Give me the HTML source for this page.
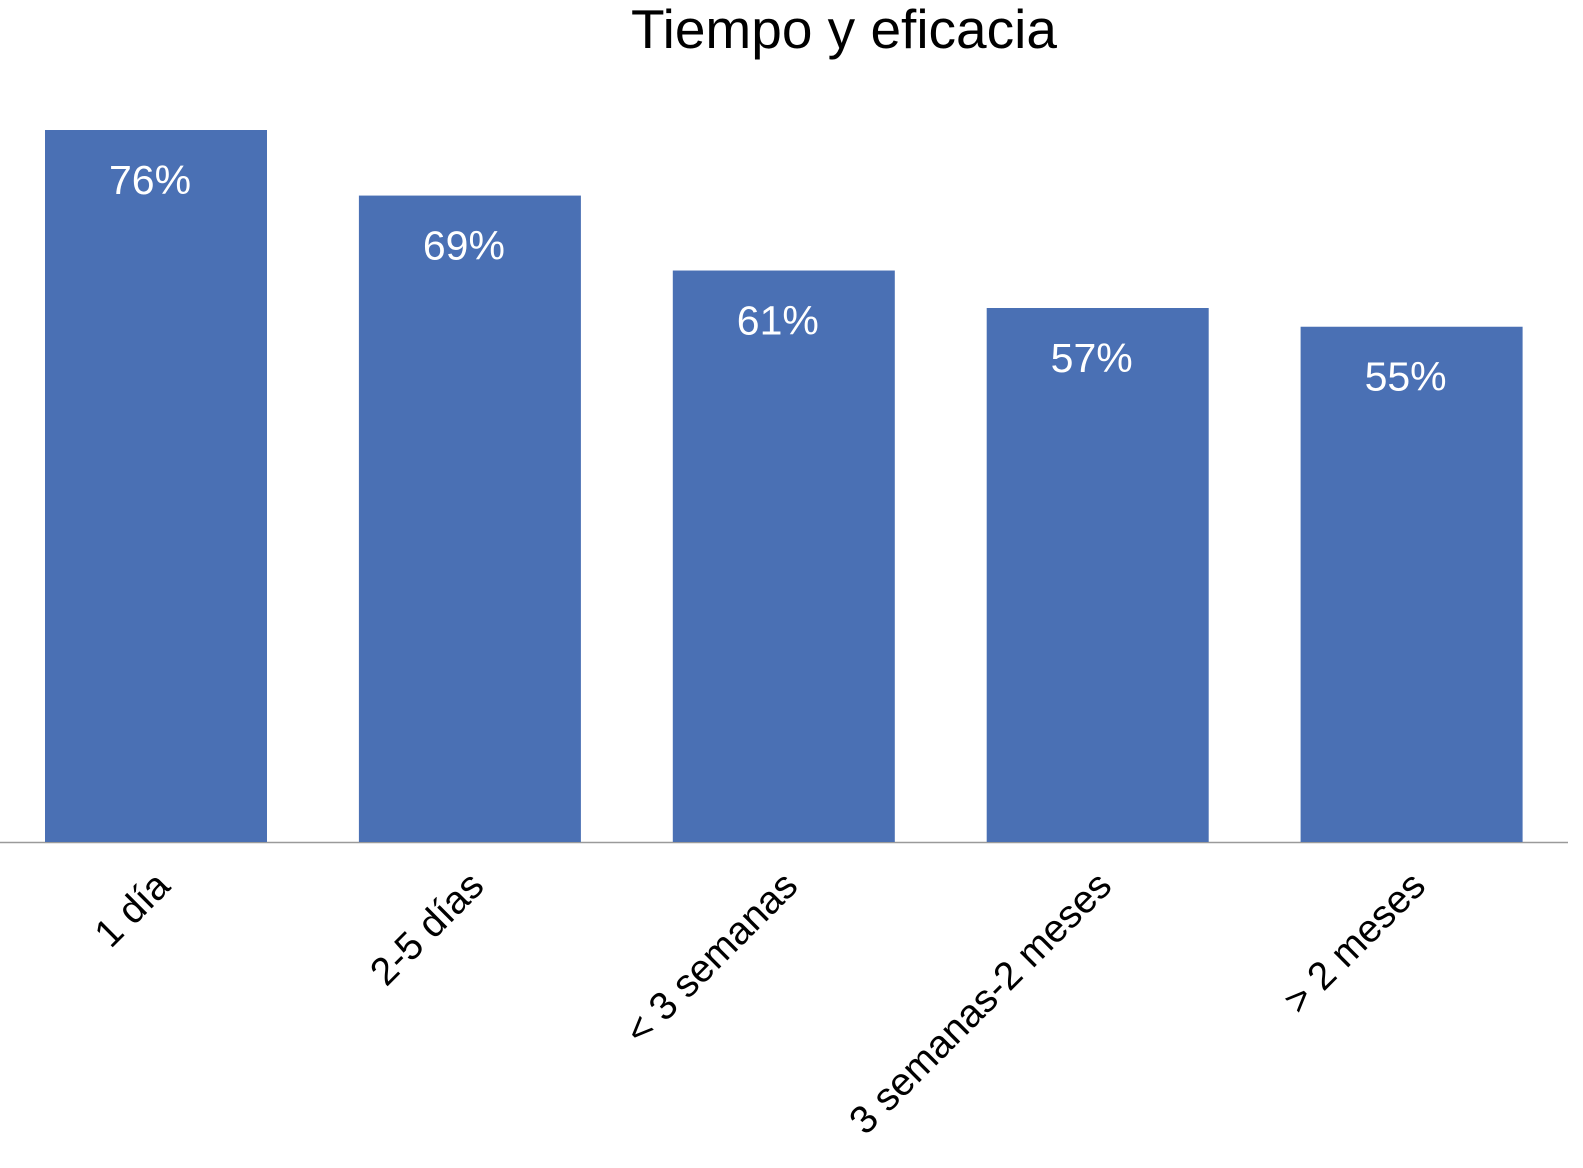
<!DOCTYPE html>
<html><head><meta charset="utf-8"><style>
body{margin:0;background:#fff;}
svg{display:block;font-family:"Liberation Sans",Arial,sans-serif;}
</style></head><body>
<svg id="chart" width="1583" height="1168">
<text x="844" y="48" font-size="55" text-anchor="middle" fill="#000">Tiempo y eficacia</text>
<line x1="0" y1="842.5" x2="1568" y2="842.5" stroke="#9a9a9a" stroke-width="1.5"/>
</svg>
<script>
const categories = ["1 día","2-5 días","< 3 semanas","3 semanas-2 meses","> 2 meses"];
const values = [76,69,61,57,55];
const valueLabels = ["76%","69%","61%","57%","55%"];
const svg = document.getElementById('chart');
const NS = 'http://www.w3.org/2000/svg';
const baseY = 842, pxPer = (842-130)/76;
const x0 = 45, pitch = 313.9, bw = 222;
function xPos(i){return x0 + i*pitch;}
function yPos(v){return baseY - v*pxPer;}
categories.forEach((c,i)=>{
  const r = document.createElementNS(NS,'rect');
  r.setAttribute('x',xPos(i)); r.setAttribute('y',yPos(values[i]));
  r.setAttribute('width',bw); r.setAttribute('height',baseY-yPos(values[i]));
  r.setAttribute('fill','#4a70b4');
  
  
  svg.appendChild(r);
  const t = document.createElementNS(NS,'text');
  t.setAttribute('x',xPos(i)+bw/2-6); t.setAttribute('y',yPos(values[i])+64);
  t.setAttribute('font-size','41'); t.setAttribute('fill','#fff'); t.setAttribute('text-anchor','middle');
  t.textContent = valueLabels[i];
  
  
  svg.appendChild(t);
  const cx = xPos(i)+bw/2+16, cy = 888;
  const l = document.createElementNS(NS,'text');
  l.setAttribute('x',cx); l.setAttribute('y',cy);
  l.setAttribute('font-size','39'); l.setAttribute('text-anchor','end');
  l.setAttribute('transform','rotate(-45 '+cx+' '+cy+')');
  l.textContent = c;
  
  
  svg.appendChild(l);
});
</script>
</body></html>
